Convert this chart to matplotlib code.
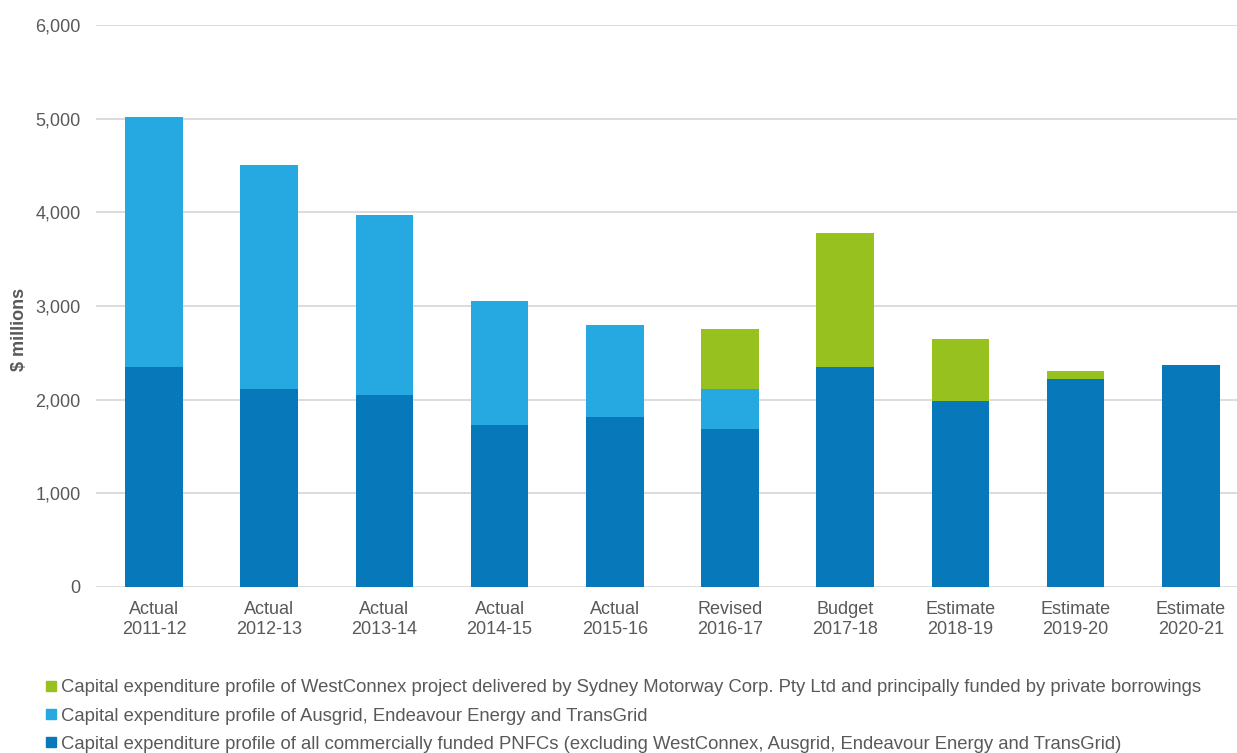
import numpy as np
import matplotlib.pyplot as plt
from matplotlib.lines import Line2D

plt.rcParams['font.family'] = ['Liberation Sans', 'DejaVu Sans']

stages = ['Actual', 'Actual', 'Actual', 'Actual', 'Actual', 'Revised',
          'Budget', 'Estimate', 'Estimate', 'Estimate']
years = ['2011-12', '2012-13', '2013-14', '2014-15', '2015-16', '2016-17',
         '2017-18', '2018-19', '2019-20', '2020-21']
# $ millions
pnfc = [2350, 2115, 2050, 1730, 1815, 1690, 2350, 1985, 2220, 2370]
ausgrid = [2670, 2390, 1920, 1320, 980, 425, 0, 0, 0, 0]
westconnex = [0, 0, 0, 0, 0, 640, 1430, 660, 85, 0]

lab_green = ('Capital expenditure profile of WestConnex project delivered by Sydney '
             'Motorway Corp. Pty Ltd and principally funded by private borrowings')
lab_light = 'Capital expenditure profile of Ausgrid, Endeavour Energy and TransGrid'
lab_dark = ('Capital expenditure profile of all commercially funded PNFCs (excluding '
            'WestConnex, Ausgrid, Endeavour Energy and TransGrid)')

c_dark = '#0779BB'
c_light = '#25A9E0'
c_green = '#96C11F'
txt = '#595959'

fig = plt.figure(figsize=(12.37, 7.53), dpi=100)
ax = fig.add_axes([0.0779, 0.2205, 0.9313, 0.7463])

x = np.arange(len(years))
w = 0.5
ax.bar(x, pnfc, w, color=c_dark, zorder=3)
ax.bar(x, ausgrid, w, bottom=pnfc, color=c_light, zorder=3)
ax.bar(x, westconnex, w, bottom=np.array(pnfc) + np.array(ausgrid), color=c_green, zorder=3)

ax.set_xlim(-0.5, len(years) - 0.5)
ax.set_ylim(0, 6000)
ax.set_yticks(np.arange(0, 6001, 1000))
ax.set_yticklabels([f'{v:,}' for v in range(0, 6001, 1000)])
ax.set_xticks(x)
ax.set_xticklabels([f'{s}\n{y}' for s, y in zip(stages, years)], linespacing=1.25)
ax.tick_params(length=0, labelsize=13, colors=txt)
ax.tick_params(axis='y', pad=11.5)
ax.tick_params(axis='x', pad=10)
ax.yaxis.grid(True, color='#D9D9D9', linewidth=1.3, zorder=0)
for s in ax.spines.values():
    s.set_visible(False)

fig.text(0.016, 0.562, '$ millions', rotation=90, fontsize=13, fontweight='bold',
         color=txt, ha='center', va='center')

handles = [Line2D([], [], marker='s', linestyle='none', color=c, markersize=7.2)
           for c in (c_green, c_light, c_dark)]
fig.legend(handles, [lab_green, lab_light, lab_dark], loc='upper left',
           bbox_to_anchor=(0.037, 0.0977), frameon=False, fontsize=13.3,
           labelcolor=txt, handlelength=0.6, handletextpad=0.25, labelspacing=0.6,
           borderaxespad=0, borderpad=0)

fig.savefig('out.png', dpi=100)
